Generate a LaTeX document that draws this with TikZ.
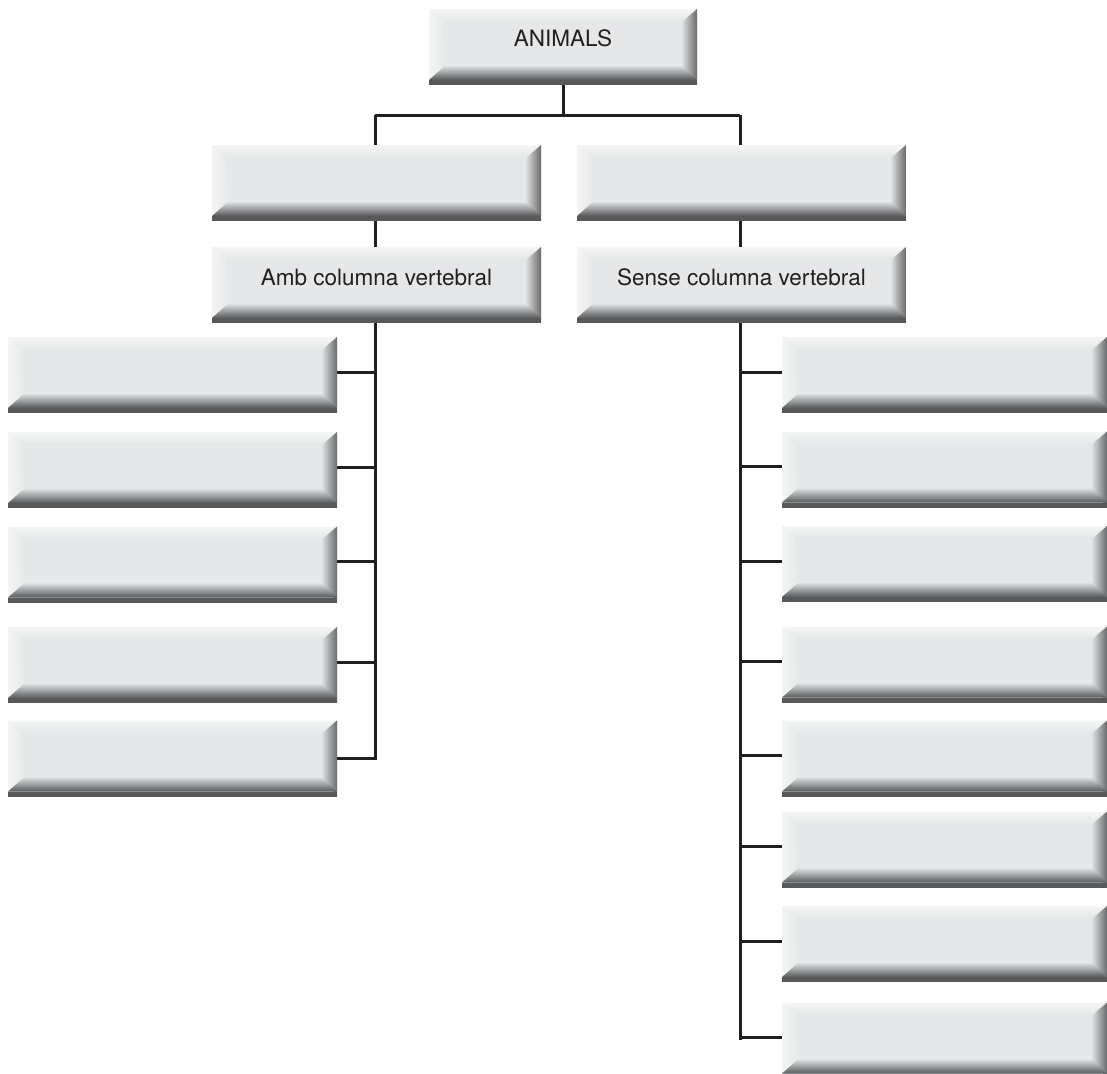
\documentclass[tikz,border=0pt]{standalone}
\usepackage{fontspec}
\setmainfont{TeX Gyre Heros}
\usetikzlibrary{calc,backgrounds}
\definecolor{face}{HTML}{E6E7E8}
\definecolor{hilite}{HTML}{F4F5F5}
\definecolor{rbev}{HTML}{68696B}
\definecolor{bbev}{HTML}{58595B}
\definecolor{ink}{HTML}{231F20}
\tikzset{
  bevbox/.style={rectangle, minimum width=329pt, minimum height=76pt, inner sep=0pt,
    text=ink, font=\fontsize{22.5}{26}\selectfont,
    path picture={
      \coordinate (ppsw) at (path picture bounding box.south west);
      \coordinate (ppne) at (path picture bounding box.north east);
      \coordinate (ppse) at (path picture bounding box.south east);
      \coordinate (ppnw) at (path picture bounding box.north west);
      \fill[face] (ppsw) rectangle (ppne);
      \shade[top color=hilite, bottom color=face] (ppnw) -- (ppne) -- ($(ppne)+(-16pt,-12pt)$) -- ($(ppnw)+(14pt,-12pt)$) -- cycle;
      \shade[left color=hilite, right color=face] (ppnw) -- ($(ppnw)+(14pt,-12pt)$) -- ($(ppsw)+(17pt,20pt)$) -- (ppsw) -- cycle;
      \shade[left color=face, right color=rbev] (ppne) -- ($(ppne)+(-16pt,-14pt)$) -- ($(ppse)+(-16pt,20pt)$) -- (ppse) -- cycle;
      \shade[top color=face, bottom color=bbev] ($(ppsw)+(17pt,20pt)$) -- ($(ppse)+(-16pt,20pt)$) -- ($(ppse)+(0pt,5pt)$) -- ($(ppsw)+(0pt,5pt)$) -- cycle;
      \fill[bbev] (ppsw) rectangle ($(ppse)+(0pt,5pt)$);
    }},
  conn/.style={draw=ink, line width=3pt},
}
\begin{document}
\begin{tikzpicture}[x=1pt,y=-1pt]
\useasboundingbox (0,0) rectangle (1107,1073);
% top
\node[bevbox, minimum width=268pt] (animals) at (563,47) {\smash{ANIMALS}};
\node[bevbox] (l2) at (376.5,183) {};
\node[bevbox] (r2) at (741.5,183) {};
\node[bevbox] (l3) at (376.5,285) {\smash{Amb columna vertebral}};
\node[bevbox] (r3) at (741.5,285) {\smash{Sense columna vertebral}};
% left column
\node[bevbox] (lc1) at (172.5,375) {};
\node[bevbox] (lc2) at (172.5,470) {};
\node[bevbox] (lc3) at (172.5,564.5) {};
\node[bevbox] (lc4) at (172.5,665) {};
\node[bevbox] (lc5) at (172.5,758.5) {};
% right column
\node[bevbox, minimum width=325pt] (rc1) at (944.5,375) {};
\node[bevbox, minimum width=325pt] (rc2) at (944.5,469.5) {};
\node[bevbox, minimum width=325pt] (rc3) at (944.5,564) {};
\node[bevbox, minimum width=325pt] (rc4) at (944.5,664.5) {};
\node[bevbox, minimum width=325pt] (rc5) at (944.5,758.5) {};
\node[bevbox, minimum width=325pt] (rc6) at (944.5,849.5) {};
\node[bevbox, minimum width=325pt] (rc7) at (944.5,944) {};
\node[bevbox, minimum width=325pt] (rc8) at (944.5,1040.5) {};
\coordinate (hub) at (563,115);
\begin{pgfonlayer}{background}
  \draw[conn] (animals.south) -- (hub);
  \draw[conn] ([xshift=-1.5pt]l2.north |- hub) -- ([xshift=-1.5pt]r2.north |- hub);
  \draw[conn] ([xshift=-1.5pt]l2.north |- hub) -- ([xshift=-1.5pt]l2.north);
  \draw[conn] ([xshift=-1.5pt]r2.north |- hub) -- ([xshift=-1.5pt]r2.north);
  \draw[conn] ([xshift=-1.5pt]l2.south) -- ([xshift=-1.5pt]l3.north);
  \draw[conn] ([xshift=-1.5pt]r2.south) -- ([xshift=-1.5pt]r3.north);
  % left trunk
  \draw[conn, line cap=rect] ([xshift=-1.5pt]l3.south) -- ([xshift=-1.5pt]l3.south |- lc5.east);
  \foreach \b in {lc1,lc2,lc3,lc4} {
    \draw[conn] ([yshift=3pt]\b.east) -- ([xshift=-1.5pt,yshift=3pt]l3.south |- \b.east);
  }
  \draw[conn] (lc5.east) -- ([xshift=-1.5pt]l3.south |- lc5.east);
  % right trunk
  \draw[conn, line cap=rect] ([xshift=-1.5pt]r3.south) -- ([xshift=-1.5pt,yshift=2pt]r3.south |- rc8.west);
  \foreach \b in {rc1,rc2,rc3,rc4,rc5,rc6,rc7,rc8} {
    \draw[conn] ([yshift=3pt]\b.west) -- ([xshift=-1.5pt,yshift=3pt]r3.south |- \b.west);
  }
\end{pgfonlayer}
\end{tikzpicture}
\end{document}
